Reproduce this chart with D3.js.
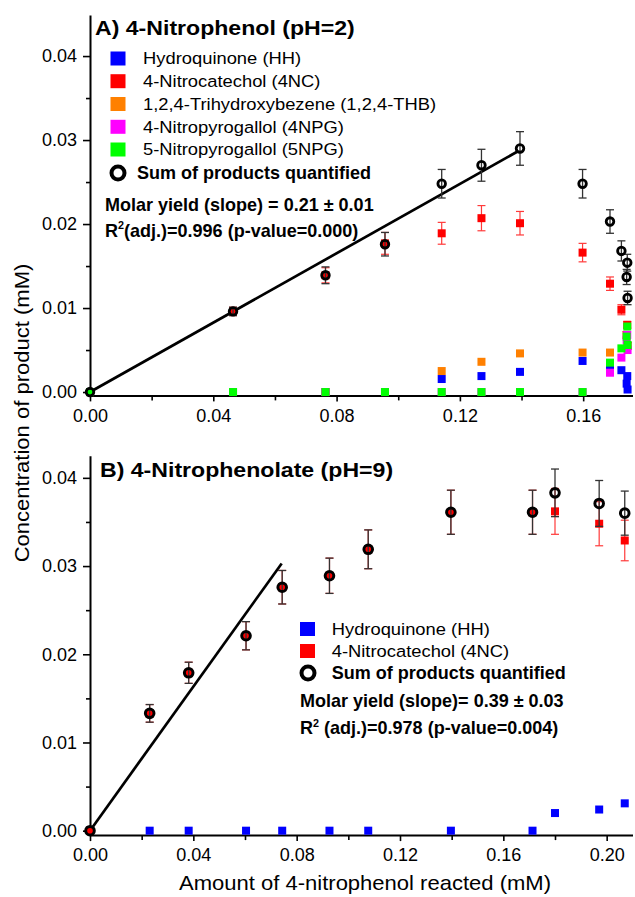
<!DOCTYPE html>
<html><head><meta charset="utf-8">
<script src="https://cdn.jsdelivr.net/npm/d3@7"></script>
<style>
body{margin:0;background:#fff;}
svg{display:block;}
text{font-family:"Liberation Sans",Arial,sans-serif;fill:#000;}
</style>
</head><body>
<svg id="c" width="635" height="897"></svg>
<script>
// ---------- Panel A: 4-Nitrophenol (pH=2) ----------
const xA      = [0, 0.0464, 0.0764, 0.0957, 0.1141, 0.1270, 0.1395, 0.1598, 0.1687, 0.1724, 0.1743, 0.1741, 0.1744];
const hhA     = [0, 0, 0, 0, 0.00155, 0.0019, 0.0024, 0.0037, 0.0029, 0.0026, 0.0019, 0.0010, 0.0003];
const ncA     = [0, 0.0096, 0.0139, 0.0177, 0.0189, 0.0207, 0.0201, 0.0166, 0.0129, 0.0098, 0.0080, 0.0068, 0.0055];
const ncErrA  = [0, 0.0005, 0.0009, 0.0013, 0.0013, 0.0015, 0.0014, 0.0011, 0.0008, 0.0006, 0.0004, 0.0004, 0.0004];
const thbA    = [0, 0, 0, 0, 0.0025, 0.0036, 0.0046, 0.0047, 0.0047, null, null, null, null];
const npg4A   = [0, 0, 0, 0, 0, 0, 0, 0, 0.0023, 0.0041, 0.0068, 0.0062, 0.0050];
const npg5A   = [0, 0, 0, 0, 0, 0, 0, 0, 0.0035, 0.0052, 0.0078, 0.0066, 0.0056];
const sumA    = [0, 0.0096, 0.0139, 0.0176, 0.0248, 0.0270, 0.0290, 0.0248, 0.0203, 0.0168, 0.0154, 0.0137, 0.0112];
const sumErrA = [0, 0.0005, 0.0010, 0.0014, 0.0017, 0.0019, 0.0020, 0.0017, 0.0014, 0.0012, 0.0010, 0.0009, 0.0008];
const fitXA   = [0, 0.139];
const fitYA   = [0, 0.0287];
const namesA  = ["Hydroquinone (HH)", "4-Nitrocatechol (4NC)", "1,2,4-Trihydroxybezene (1,2,4-THB)", "4-Nitropyrogallol (4NPG)", "5-Nitropyrogallol (5NPG)"];
const titleA  = "A) 4-Nitrophenol (pH=2)";
const slopeA  = "Molar yield (slope) = 0.21 ± 0.01";
const r2A     = ["R", "2", "(adj.)=0.996 (p-value=0.000)"];
const xTicksA = [0, 0.04, 0.08, 0.12, 0.16];
const yTicksA = [0, 0.01, 0.02, 0.03, 0.04];

// ---------- Panel B: 4-Nitrophenolate (pH=9) ----------
const xB      = [0, 0.0231, 0.0382, 0.0604, 0.0744, 0.0927, 0.1077, 0.1397, 0.1713, 0.1800, 0.1971, 0.2070];
const hhB     = [0, 0, 0, 0, 0, 0, 0, 0, 0, 0.0020, 0.0024, 0.0031];
const ncB     = [0, 0.0133, 0.0179, 0.0221, 0.0276, 0.0289, 0.0319, 0.0361, 0.0361, 0.0362, 0.0348, 0.0329];
const ncErrB  = [0, 0.0010, 0.0012, 0.0016, 0.0019, 0.0020, 0.0022, 0.0025, 0.0025, 0.0026, 0.0025, 0.0023];
const sumB    = [0, 0.0133, 0.0179, 0.0221, 0.0276, 0.0289, 0.0319, 0.0361, 0.0361, 0.0383, 0.0371, 0.0360];
const sumErrB = [0, 0.0010, 0.0012, 0.0016, 0.0019, 0.0020, 0.0022, 0.0025, 0.0025, 0.0027, 0.0026, 0.0025];
const fitXB   = [0, 0.0742];
const fitYB   = [0, 0.0303];
const namesB  = ["Hydroquinone (HH)", "4-Nitrocatechol (4NC)"];
const titleB  = "B) 4-Nitrophenolate (pH=9)";
const slopeB  = "Molar yield (slope)= 0.39 ± 0.03";
const r2B     = ["R", "2", " (adj.)=0.978 (p-value=0.004)"];
const xTicksB = [0, 0.04, 0.08, 0.12, 0.16, 0.20];
const yTicksB = [0, 0.01, 0.02, 0.03, 0.04];

const sumLabel = "Sum of products quantified";
const xTitle = "Amount of 4-nitrophenol reacted (mM)";
const yTitle = "Concentration of product (mM)";

const C = {hh:"#0000ff", nc:"#ff0000", thb:"#ff8000", npg4:"#ff00ff", npg5:"#00ff00"};

const svg = d3.select("#c");

function T(g, x, y, str, o = {}) {
  const size = o.size || 16, sx = o.sx || 1;
  const tr = `translate(${x},${y})` + (o.rot ? ` rotate(${o.rot})` : "") + ` scale(${sx},1)`;
  return g.append("text").attr("transform", tr)
    .attr("font-size", size).attr("font-weight", o.bold ? "bold" : "normal")
    .attr("text-anchor", o.anchor || "start").attr("dy", "0.35em").text(str);
}
function R2(g, x, y, parts, size, sx) {
  const t = g.append("text").attr("transform", `translate(${x},${y + size*0.35}) scale(${sx},1)`)
    .attr("font-size", size).attr("font-weight", "bold");
  t.append("tspan").text(parts[0]);
  t.append("tspan").attr("font-size", size*0.6).attr("dy", -size*0.45).text(parts[1]);
  t.append("tspan").attr("dy", size*0.45).text(parts[2]);
}

function panel(cfg) {
  const g = svg.append("g");
  const x = d3.scaleLinear().domain(cfg.xdom).range([90, 632.5]);
  const y = d3.scaleLinear().domain(cfg.ydom).range(cfg.yrange);

  const yMinor = d3.range(0.005, cfg.ydom[1], 0.01);
  const xMinor = d3.range(0.02, cfg.xdom[1], 0.04);
  g.append("g").attr("transform", `translate(90,0)`)
    .call(d3.axisLeft(y).tickValues(yMinor).tickSize(4).tickSizeOuter(0).tickFormat(""))
    .call(a => a.select(".domain").remove());
  g.append("g").attr("transform", `translate(0,${cfg.yrange[0]})`)
    .call(d3.axisBottom(x).tickValues(xMinor).tickSize(5).tickSizeOuter(0).tickFormat(""))
    .call(a => a.select(".domain").remove());
  g.append("g").attr("transform", `translate(90,0)`)
    .call(d3.axisLeft(y).tickValues(cfg.yTicks).tickSize(7).tickPadding(6).tickSizeOuter(0).tickFormat(d3.format(".2f")));
  g.append("g").attr("transform", `translate(0,${cfg.yrange[0]})`)
    .call(d3.axisBottom(x).tickValues(cfg.xTicks).tickSize(6).tickPadding(cfg.xpad).tickSizeOuter(0).tickFormat(d3.format(".2f")));
  g.selectAll(".tick line").attr("stroke", "#000").attr("stroke-width", 1.6);
  g.selectAll(".domain").attr("stroke", "#000").attr("stroke-width", 2);
  g.selectAll(".tick text").attr("font-size", 18).attr("font-family", '"Liberation Sans",Arial,sans-serif').attr("fill", "#000");

  g.append("path").datum(d3.zip(cfg.fitX, cfg.fitY))
    .attr("d", d3.line().x(d => x(d[0])).y(d => y(d[1])))
    .attr("fill", "none").attr("stroke", "#000").attr("stroke-width", 2.7);

  const errbars = (xs, ys, es, col, w) => {
    xs.forEach((xv, i) => {
      if (ys[i] == null || !es[i]) return;
      const cx = x(xv), y0 = y(ys[i] - es[i]), y1 = y(ys[i] + es[i]);
      g.append("line").attr("x1", cx).attr("x2", cx).attr("y1", y0).attr("y2", y1).attr("stroke", col).attr("stroke-width", w);
      [y0, y1].forEach(yy => g.append("line").attr("x1", cx - 4).attr("x2", cx + 4).attr("y1", yy).attr("y2", yy).attr("stroke", col).attr("stroke-width", w));
    });
  };
  const squares = (xs, ys, col, s) => {
    xs.forEach((xv, i) => {
      if (ys[i] == null) return;
      g.append("rect").attr("x", x(xv) - s/2).attr("y", y(ys[i]) - s/2).attr("width", s).attr("height", s).attr("fill", col);
    });
  };
  cfg.draw(g, x, y, squares, errbars);

  if (cfg.sumErr) errbars(cfg.xs, cfg.sum, cfg.sumErr, "#333", 1.3);
  cfg.xs.forEach((xv, i) => {
    g.append("circle").attr("cx", x(xv)).attr("cy", y(cfg.sum[i])).attr("r", cfg.cr)
      .attr("fill", "none").attr("stroke", "#000").attr("stroke-width", cfg.csw);
  });
  return g;
}

// Panel A
const gA = panel({
  xdom: [0, 0.176], ydom: [-0.0004, 0.0449], yrange: [395.4, 14.9], xpad: 8,
  xTicks: xTicksA, yTicks: yTicksA, fitX: fitXA, fitY: fitYA,
  xs: xA, sum: sumA, sumErr: sumErrA, cr: 3.8, csw: 2.8,
  draw: (g, x, y, sq, eb) => {
    sq(xA, hhA, C.hh, 8);
    eb(xA, ncA, ncErrA, "#ff3a3a", 1.2);
    sq(xA, ncA, C.nc, 8);
    sq(xA, thbA, C.thb, 8);
    sq(xA, npg4A, C.npg4, 8);
    sq(xA, npg5A, C.npg5, 8);
  }
});
T(gA, 95, 27.5, titleA, {size: 21, bold: true, sx: 1.1});
const legRowsA = [58.5, 81.2, 104, 126.8, 149.5];
const colsA = [C.hh, C.nc, C.thb, C.npg4, C.npg5];
namesA.forEach((n, i) => {
  gA.append("rect").attr("x", 110.5).attr("y", legRowsA[i] - 7).attr("width", 15).attr("height", 14).attr("fill", colsA[i]);
  T(gA, 143, legRowsA[i], n, {size: 17, sx: 1.08});
});
gA.append("circle").attr("cx", 118).attr("cy", 173).attr("r", 6.5).attr("fill", "none").attr("stroke", "#000").attr("stroke-width", 4);
T(gA, 137, 173, sumLabel, {size: 17.5, bold: true, sx: 1.03});
T(gA, 105, 205, slopeA, {size: 17.5, bold: true, sx: 1.03});
R2(gA, 105, 231, r2A, 17.5, 1.03);

// Panel B
const gB = panel({
  xdom: [0, 0.21], ydom: [-0.0005, 0.0425], yrange: [835.1, 455.8], xpad: 7,
  xTicks: xTicksB, yTicks: yTicksB, fitX: fitXB, fitY: fitYB,
  xs: xB, sum: sumB, sumErr: sumErrB, cr: 4.3, csw: 3,
  draw: (g, x, y, sq, eb) => {
    sq(xB, hhB, C.hh, 8);
    eb(xB, ncB, ncErrB, "#ff3a3a", 1.2);
    sq(xB, ncB, C.nc, 8);
  }
});
T(gB, 100, 470, titleB, {size: 21, bold: true, sx: 1.1});
const legRowsB = [629, 651];
[C.hh, C.nc].forEach((c, i) => {
  gB.append("rect").attr("x", 300).attr("y", legRowsB[i] - 7).attr("width", 15).attr("height", 14).attr("fill", c);
  T(gB, 331.7, legRowsB[i], namesB[i], {size: 17, sx: 1.08});
});
gB.append("circle").attr("cx", 308).attr("cy", 673).attr("r", 6.5).attr("fill", "none").attr("stroke", "#000").attr("stroke-width", 4);
T(gB, 331.7, 673, sumLabel, {size: 17.5, bold: true, sx: 1.03});
T(gB, 300, 700.7, slopeB, {size: 17.5, bold: true, sx: 1.03});
R2(gB, 300, 728.3, r2B, 17.5, 1.03);

// axis titles
T(svg, 365, 883, xTitle, {size: 20.5, sx: 1.075, anchor: "middle"});
T(svg, 22, 413, yTitle, {size: 20.5, sx: 1.075, anchor: "middle", rot: -90});
</script>
</body></html>
